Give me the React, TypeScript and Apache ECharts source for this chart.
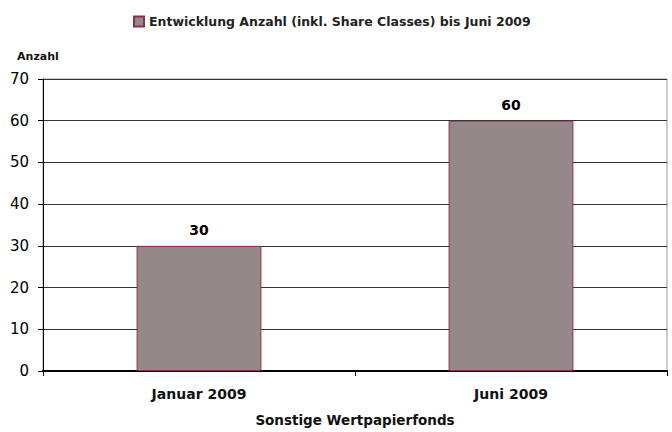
import React, { useEffect, useRef } from "react";
import * as echarts from "echarts";

const categories = ["Januar 2009", "Juni 2009"];
const seriesName = "Entwicklung Anzahl (inkl. Share Classes) bis Juni 2009";
const values = [30, 60];
const yMin = 0;
const yMax = 70;
const yInterval = 10;
const yAxisName = "Anzahl";
const xAxisName = "Sonstige Wertpapierfonds";

const FONT = "DejaVu Sans";

export default function App() {
  const ref = useRef<HTMLDivElement>(null);
  useEffect(() => {
    if (!ref.current) return;
    const chart = echarts.init(ref.current, undefined, { renderer: "svg" });
    chart.setOption({
      animation: false,
      backgroundColor: "#ffffff",
      textStyle: { fontFamily: FONT },
      legend: {
        top: 10,
        left: 128,
        itemWidth: 10,
        itemHeight: 10,
        itemGap: 4,
        icon: "rect",
        textStyle: { fontFamily: FONT, fontWeight: "bold", fontSize: 12.5, color: "#222" },
        data: [seriesName],
      },
      grid: {
        left: 43,
        right: 5,
        top: 79,
        bottom: 61,
        show: true,
        borderColor: "#999",
        borderWidth: 1,
        containLabel: false,
      },
      xAxis: {
        type: "category",
        data: categories,
        name: xAxisName,
        nameLocation: "middle",
        nameGap: 42,
        nameTextStyle: { fontFamily: FONT, fontWeight: "bold", fontSize: 13.5, color: "#111" },
        axisLine: { show: true, lineStyle: { color: "#000", width: 2 } },
        axisTick: { show: true, alignWithLabel: false, length: 5, lineStyle: { color: "#000" } },
        axisLabel: { margin: 16, fontFamily: FONT, fontWeight: "bold", fontSize: 14, color: "#111" },
        splitLine: { show: false },
      },
      yAxis: {
        type: "value",
        min: yMin,
        max: yMax,
        interval: yInterval,
        name: yAxisName,
        nameLocation: "end",
        nameGap: 17,
        nameTextStyle: {
          fontFamily: FONT,
          fontWeight: "bold",
          fontSize: 11,
          color: "#111",
          align: "center",
          padding: [0, 10, 0, 0],
        },
        axisLine: { show: true, lineStyle: { color: "#000", width: 1 } },
        axisTick: { show: true, length: 5, lineStyle: { color: "#000" } },
        axisLabel: { margin: 14, fontFamily: FONT, fontSize: 15, color: "#000" },
        splitLine: { show: true, lineStyle: { color: "#333", width: 1 } },
      },
      series: [
        {
          name: seriesName,
          type: "bar",
          data: values,
          barWidth: "40%",
          itemStyle: { color: "#948888", borderColor: "#8b2f4a", borderWidth: 1 },
          label: {
            show: true,
            position: "top",
            distance: 9,
            fontFamily: FONT,
            fontWeight: "bold",
            fontSize: 14,
            color: "#000",
          },
        },
      ],
    });
    return () => chart.dispose();
  }, []);
  return (
    <div
      ref={ref}
      style={{ position: "fixed", left: 0, top: 0, width: 672, height: 432 }}
    />
  );
}
